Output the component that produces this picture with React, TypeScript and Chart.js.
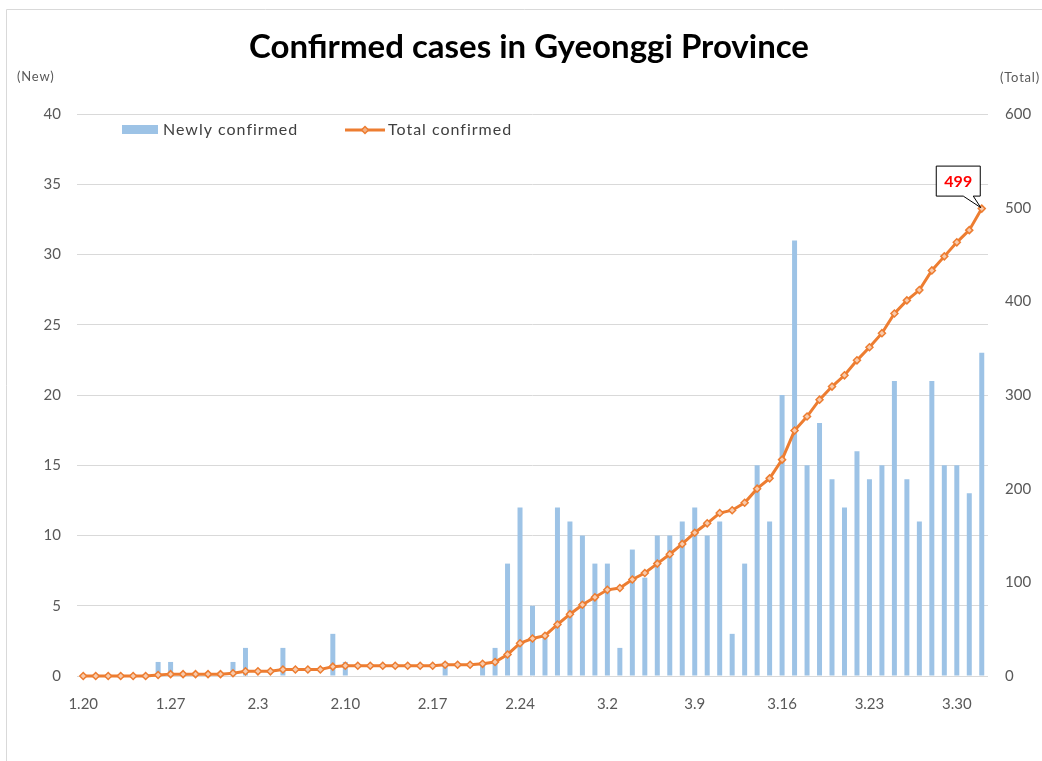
import React, { useEffect, useRef } from "react";
import { Chart, registerables } from "chart.js";

Chart.register(...registerables);

const dates = [
  "1.20","1.21","1.22","1.23","1.24","1.25","1.26","1.27","1.28","1.29","1.30","1.31",
  "2.1","2.2","2.3","2.4","2.5","2.6","2.7","2.8","2.9","2.10","2.11","2.12","2.13","2.14",
  "2.15","2.16","2.17","2.18","2.19","2.20","2.21","2.22","2.23","2.24","2.25","2.26","2.27",
  "2.28","2.29",
  "3.1","3.2","3.3","3.4","3.5","3.6","3.7","3.8","3.9","3.10","3.11","3.12","3.13","3.14",
  "3.15","3.16","3.17","3.18","3.19","3.20","3.21","3.22","3.23","3.24","3.25","3.26","3.27",
  "3.28","3.29","3.30","3.31","4.1",
];

const newlyConfirmed = [
  0, 0, 0, 0, 0, 0, 1, 1, 0, 0, 0, 0,
  1, 2, 0, 0, 2, 0, 0, 0, 3, 1, 0, 0, 0, 0,
  0, 0, 0, 1, 0, 0, 1, 2, 8, 12, 5, 3, 12,
  11, 10,
  8, 8, 2, 9, 7, 10, 10, 11, 12, 10, 11, 3, 8, 15,
  11, 20, 31, 15, 18, 14, 12, 16, 14, 15, 21, 14, 11,
  21, 15, 15, 13, 23,
];

const totalConfirmed = [
  0, 0, 0, 0, 0, 0, 1, 2, 2, 2, 2, 2,
  3, 5, 5, 5, 7, 7, 7, 7, 10, 11, 11, 11, 11, 11,
  11, 11, 11, 12, 12, 12, 13, 15, 23, 35, 40, 43, 55,
  66, 76,
  84, 92, 94, 103, 110, 120, 130, 141, 153, 163, 174, 177, 185, 200,
  211, 231, 262, 277, 295, 309, 321, 337, 351, 366, 387, 401, 412,
  433, 448, 463, 476, 499,
];

const newTickValues = [0, 5, 10, 15, 20, 25, 30, 35, 40];
const totalTickValues = [0, 100, 200, 300, 400, 500, 600];

const titleText = "Confirmed cases in Gyeonggi Province";
const newLabel = "Newly confirmed";
const totalLabel = "Total confirmed";
const newUnit = "(New)";
const totalUnit = "(Total)";

const BAR_COLOR = "#9DC3E6";
const LINE_COLOR = "#ED7D31";
const GRID_COLOR = "#D9D9D9";
const TICK_COLOR = "#595959";
const FONT = "Lato, 'Open Sans', sans-serif";

const decorPlugin = {
  id: "decor",
  afterDraw(chart: any) {
    const ctx = chart.ctx as CanvasRenderingContext2D;
    ctx.save();
    // frame
    ctx.strokeStyle = "#D9D9D9";
    ctx.lineWidth = 1;
    ctx.beginPath();
    ctx.moveTo(6.5, 770);
    ctx.lineTo(6.5, 9.5);
    ctx.lineTo(1050, 9.5);
    ctx.stroke();

    // title
    ctx.fillStyle = "#000000";
    ctx.font = `bold 33px ${FONT}`;
    ctx.textAlign = "center";
    ctx.textBaseline = "middle";
    ctx.fillText(titleText, 529, 47);

    // unit labels
    ctx.fillStyle = TICK_COLOR;
    ctx.font = `13px ${FONT}`;
    (ctx as any).letterSpacing = "0.8px";
    ctx.textAlign = "left";
    ctx.fillText(newUnit, 17, 77);
    ctx.textAlign = "right";
    ctx.fillText(totalUnit, 1040, 78);

    // legend
    ctx.fillStyle = BAR_COLOR;
    ctx.fillRect(122, 125, 36, 9);
    ctx.fillStyle = "#404040";
    ctx.font = `16px ${FONT}`;
    (ctx as any).letterSpacing = "1px";
    ctx.textAlign = "left";
    ctx.fillText(newLabel, 163, 130);
    ctx.strokeStyle = LINE_COLOR;
    ctx.lineWidth = 3;
    ctx.beginPath();
    ctx.moveTo(345, 130);
    ctx.lineTo(385, 130);
    ctx.stroke();
    ctx.fillStyle = "#F4B183";
    ctx.lineWidth = 1.5;
    ctx.beginPath();
    ctx.moveTo(365, 126.5);
    ctx.lineTo(368.5, 130);
    ctx.lineTo(365, 133.5);
    ctx.lineTo(361.5, 130);
    ctx.closePath();
    ctx.fill();
    ctx.stroke();
    ctx.fillStyle = "#404040";
    ctx.fillText(totalLabel, 388, 130);
    (ctx as any).letterSpacing = "0px";

    // callout for last total
    const meta = chart.getDatasetMeta(1);
    const last = meta.data[meta.data.length - 1];
    if (last) {
      const px = last.x;
      const py = last.y;
      const bx = px - 46;
      const by = py - 43;
      const bw = 44;
      const bh = 30;
      ctx.fillStyle = "#FFFFFF";
      ctx.strokeStyle = "#000000";
      ctx.lineWidth = 1;
      ctx.beginPath();
      ctx.moveTo(bx + 0.5, by + 0.5);
      ctx.lineTo(bx + bw + 0.5, by + 0.5);
      ctx.lineTo(bx + bw + 0.5, by + bh + 0.5);
      ctx.lineTo(bx + 37.5, by + bh + 0.5);
      ctx.lineTo(px - 1, py - 1);
      ctx.lineTo(bx + 27.5, by + bh + 0.5);
      ctx.lineTo(bx + 0.5, by + bh + 0.5);
      ctx.closePath();
      ctx.fill();
      ctx.stroke();
      ctx.fillStyle = "#FF0000";
      ctx.font = `bold 16px ${FONT}`;
      ctx.textAlign = "center";
      ctx.textBaseline = "middle";
      ctx.fillText(String(totalConfirmed[totalConfirmed.length - 1]), bx + bw / 2 + 0.5, by + bh / 2 + 1);
    }
    ctx.restore();
  },
};

export default function App() {
  const canvasRef = useRef<HTMLCanvasElement | null>(null);

  useEffect(() => {
    if (!canvasRef.current) return;
    const chart = new Chart(canvasRef.current, {
      type: "bar",
      data: {
        labels: dates,
        datasets: [
          {
            type: "bar",
            label: newLabel,
            data: newlyConfirmed,
            backgroundColor: BAR_COLOR,
            borderWidth: 0,
            barPercentage: 0.4,
            categoryPercentage: 1,
            yAxisID: "y",
            order: 2,
          },
          {
            type: "line",
            label: totalLabel,
            data: totalConfirmed,
            borderColor: LINE_COLOR,
            borderWidth: 3,
            pointStyle: "rectRot",
            pointRadius: 3.5,
            pointBackgroundColor: "#F8CBAD",
            pointBorderColor: LINE_COLOR,
            pointBorderWidth: 1.5,
            tension: 0,
            yAxisID: "y1",
            order: 1,
            clip: false,
          } as any,
        ],
      },
      options: {
        responsive: false,
        animation: false,
        layout: { padding: { top: 114, left: 0, right: 0, bottom: 0 } },
        plugins: {
          legend: { display: false },
          title: { display: false },
          tooltip: { enabled: false },
        },
        scales: {
          x: {
            offset: true,
            grid: { display: false, drawTicks: false },
            border: { display: false },
            ticks: {
              autoSkip: false,
              maxRotation: 0,
              minRotation: 0,
              padding: 19,
              color: TICK_COLOR,
              font: { family: FONT, size: 15 },
              callback: (_v: any, i: number) => (i % 7 === 0 ? dates[i] : ""),
            },
            afterFit: (s: any) => {
              s.height = 85;
            },
          },
          y: {
            position: "left",
            min: 0,
            max: 40,
            afterBuildTicks: (s: any) => {
              s.ticks = newTickValues.map((v) => ({ value: v }));
            },
            grid: { color: GRID_COLOR, drawTicks: false, lineWidth: 1 },
            border: { display: false },
            ticks: {
              padding: 16,
              color: TICK_COLOR,
              font: { family: FONT, size: 15 },
            },
            afterFit: (s: any) => {
              s.width = 77;
            },
          },
          y1: {
            position: "right",
            min: 0,
            max: 600,
            afterBuildTicks: (s: any) => {
              s.ticks = totalTickValues.map((v) => ({ value: v }));
            },
            grid: { drawOnChartArea: false, drawTicks: false },
            border: { display: false },
            ticks: {
              padding: 17,
              color: TICK_COLOR,
              font: { family: FONT, size: 15 },
            },
            afterFit: (s: any) => {
              s.width = 54;
            },
          },
        },
      },
      plugins: [decorPlugin],
    });
    return () => chart.destroy();
  }, []);

  return (
    <div style={{ position: "absolute", left: 0, top: 0, width: 1042, height: 761, background: "#fff" }}>
      <canvas ref={canvasRef} width={1042} height={761} style={{ width: 1042, height: 761 }} />
    </div>
  );
}
